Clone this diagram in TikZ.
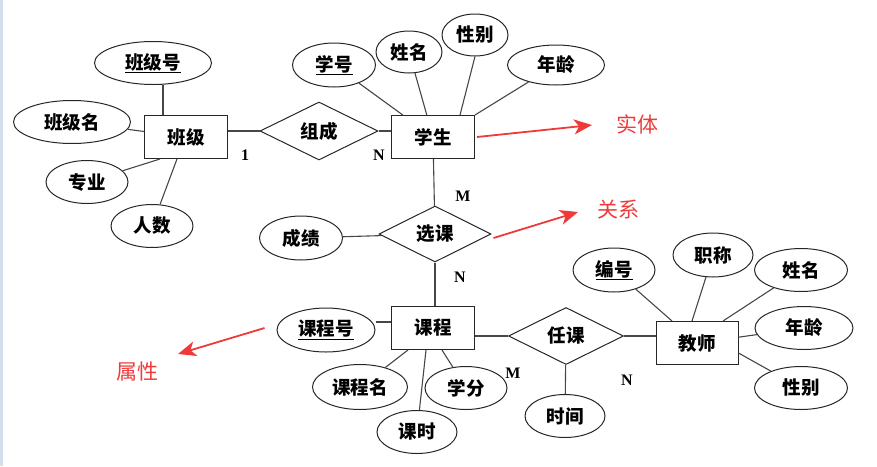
\documentclass[tikz,border=0pt]{standalone}
\usepackage{fontspec}
\setmainfont{Liberation Serif}
\newfontfamily\cjk{Noto Sans CJK SC}
\usepackage{tikz}
\usetikzlibrary{arrows.meta,shapes}
\definecolor{noteRed}{RGB}{238,58,58}
\definecolor{stripBlue}{RGB}{212,222,236}
\tikzstyle{link} = [draw=black!72, line width=1.1pt]
\tikzstyle{stdShape} = [draw=black!85, line width=1pt, inner sep=0pt, font=\cjk\bfseries\fontsize{18.5}{18.5}\selectfont]
\tikzstyle{entity} = [stdShape, shape = rectangle, minimum width=83pt, minimum height=43pt]
\tikzstyle{attr} = [stdShape, shape = ellipse, minimum width=82pt, minimum height=43pt]
\tikzstyle{rel} = [stdShape, shape = diamond, minimum width=115pt, minimum height=57pt]
\tikzstyle{card} = [font=\bfseries\fontsize{16}{16}\selectfont, inner sep=0pt]
\tikzstyle{note} = [text=noteRed, inner sep=0pt, font=\cjk\fontsize{21}{21}\selectfont]
\tikzstyle{noteArrow} = [draw=noteRed, line width=1.8pt, -{Stealth[length=18pt,width=15pt,inset=5pt]}]

\begin{document}
\begin{tikzpicture}[x=1pt, y=-1pt]
					\useasboundingbox (0,0) rectangle (877,466);
					\fill[stripBlue] (0,0) rectangle (3,466);
					% class
					\node (cls) [entity] at (186,137) {班级};
					\node (clsNo) [attr, minimum width=117pt] at (153,63) {\underline{班级号}};
					\node (clsName) [attr, minimum width=117pt] at (72,122) {班级名};
					\node (major) [attr] at (87,182) {专业};
					\node (count) [attr] at (152,226) {人数};
					% student
					\node (stu) [entity] at (433,137) {学生};
					\node (stuNo) [attr, minimum width=83pt, minimum height=44pt] at (334,65) {\underline{学号}};
					\node (stuName) [attr, minimum width=66pt, minimum height=42pt] at (409,52) {姓名};
					\node (stuSex) [attr, minimum width=66pt, minimum height=42pt] at (475,35) {性别};
					\node (stuAge) [attr, minimum width=97pt, minimum height=40pt] at (556,65) {年龄};
					\node (form) [rel, minimum width=118pt, minimum height=58pt] at (319,131) {组成};
					% course
					\node (pick) [rel, minimum width=112pt, minimum height=56pt] at (435,234) {选课};
					\node (score) [attr, minimum width=83pt, minimum height=44pt] at (301,238) {成绩};
					\node (crs) [entity] at (433,328) {课程};
					\node (crsNo) [attr, minimum width=98pt, minimum height=44pt] at (326,330) {\underline{课程号}};
					\node (crsName) [attr, minimum width=95pt, minimum height=45pt] at (360,387) {课程名};
					\node (hours) [attr, minimum width=80pt] at (417,432) {课时};
					\node (credit) [attr] at (466,388) {学分};
					% teacher
					\node (teach) [rel] at (566,336) {任课};
					\node (time) [attr, minimum width=80pt] at (565,416) {时间};
					\node (tch) [entity, minimum width=82pt] at (697,343) {教师};
					\node (tchNo) [attr, minimum height=44pt] at (614,270) {\underline{编号}};
					\node (title) [attr, minimum width=80pt, minimum height=44pt] at (713,255) {职称};
					\node (tchName) [attr, minimum width=93pt] at (801,270) {姓名};
					\node (tchAge) [attr, minimum width=98pt] at (804,328) {年龄};
					\node (tchSex) [attr, minimum width=93pt] at (801,388) {性别};
					% links
					\draw[link] ([xshift=-23pt]cls.north) -- ([xshift=-23pt]cls.north |- clsNo.south);
					\draw[link] (clsName) -- (cls);
					\draw[link] (major) -- ([xshift=-26pt]cls.south);
					\draw[link] (count) -- ([xshift=-9pt]cls.south);
					\draw[link] (form.west) -- (form.west -| cls.east);
					\draw[link] (form.east) -- (form.east -| stu.west);
					\draw[link] (stuNo) -- (stu);
					\draw[link] (stuName) -- (stu);
					\draw[link] (stuSex.south) -- ([xshift=27pt]stu.north);
					\draw[link] (stuAge) -- (stu.north east);
					\draw[link] (stu) -- (pick);
					\draw[link] (score) -- (pick);
					\draw[link] (pick) -- (pick.south |- crs.north);
					\draw[link] ([yshift=6pt]crs.west) -- ([yshift=6pt]crs.west -| crsNo.east);
					\draw[link] (crsName) -- ([xshift=-25pt]crs.south);
					\draw[link] (hours) -- ([xshift=-7pt]crs.south);
					\draw[link] (credit) -- ([xshift=9pt]crs.south);
					\draw[link] (teach.west) -- (teach.west -| crs.east);
					\draw[link] (teach) -- (time);
					\draw[link] (teach.east) -- (teach.east -| tch.west);
					\draw[link] (tchNo) -- ([xshift=-25pt]tch.north);
					\draw[link] (title) -- ([xshift=-5pt]tch.north);
					\draw[link] (tchName) -- ([xshift=26pt]tch.north);
					\draw[link] (tchAge) -- (tch);
					\draw[link] (tchSex) -- ([yshift=-10pt]tch.east);
					% cardinalities
					\node (c1) [card] at (245,155) {1};
					\node (c2) [card] at (379,155) {N};
					\node (c3) [card] at (463,196) {M};
					\node (c4) [card] at (460,277) {N};
					\node (c5) [card] at (513,373) {M};
					\node (c6) [card] at (627,380) {N};
					% notes
					\node (lblEntity) [note] at (637,124) {实体};
					\node (lblRel) [note] at (618,210) {关系};
					\node (lblAttr) [note] at (137,372) {属性};
					\coordinate (tipEntity) at (592,125);
					\coordinate (tipRel) at (578,212);
					\coordinate (tipAttr) at (178,354);
					\draw[noteArrow] ([xshift=2pt]stu.east) -- (tipEntity);
					\draw[noteArrow] ([xshift=2pt,yshift=-4pt]pick.east) -- (tipRel);
					\draw[noteArrow] ([xshift=-12pt,yshift=2pt]crsNo.west) -- (tipAttr);
\end{tikzpicture}
\end{document}
